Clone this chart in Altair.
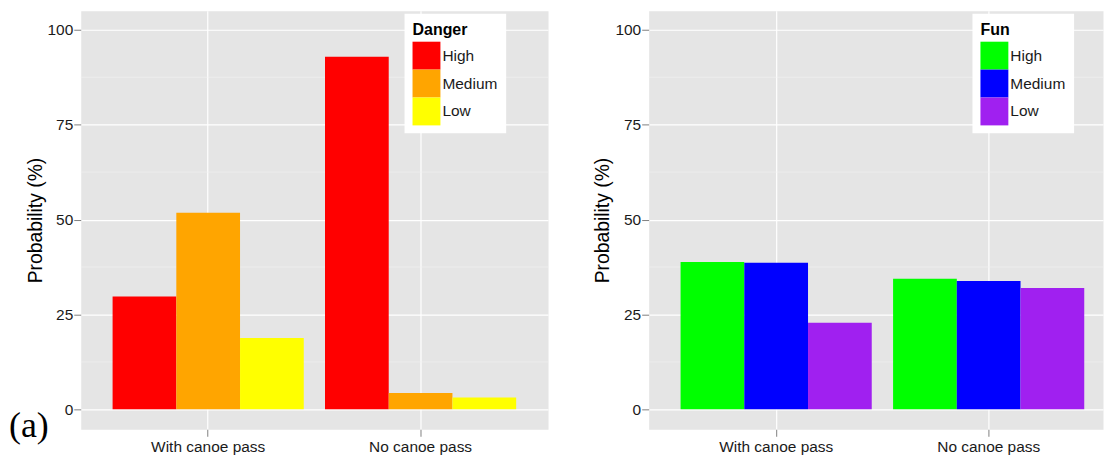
import altair as alt
import pandas as pd

groups = ["With canoe pass", "No canoe pass"]
levels = ["High", "Medium", "Low"]

danger_with = [29.7, 51.8, 18.8]
danger_without = [92.9, 4.3, 3.1]
fun_with = [38.8, 38.6, 22.8]
fun_without = [34.4, 33.8, 32.0]

danger_colors = ["#FF0000", "#FFA500", "#FFFF00"]
fun_colors = ["#00FF00", "#0000FF", "#A020F0"]

major_breaks = [0, 25, 50, 75, 100]
minor_breaks = [12.5, 37.5, 62.5, 87.5]
panel_tag = ["(a)"]

FONT = "Liberation Sans"


def make_df(with_vals, without_vals):
    rows = []
    for lv, v in zip(levels, with_vals):
        rows.append({"group": groups[0], "level": lv, "value": v})
    for lv, v in zip(levels, without_vals):
        rows.append({"group": groups[1], "level": lv, "value": v})
    return pd.DataFrame(rows)


def y_axis():
    return alt.Axis(
        values=major_breaks, title="Probability (%)", grid=True,
        gridColor="white", gridWidth=1.2, domain=False,
        tickColor="#7F7F7F", tickSize=7, tickWidth=1,
        labelFontSize=15.5, labelColor="#1a1a1a", labelPadding=1,
        titleFontSize=19.4, titleFontWeight="normal",
        titleColor="black", titlePadding=2, labelFont=FONT,
        titleFont=FONT,
    )


def panel(df, title, colors, width, po, align, tag_opacity):
    yscale = alt.Scale(domain=[-5.25, 105], nice=False, zero=False)
    minor = alt.Chart(pd.DataFrame({"value": minor_breaks})).mark_rule(
        color="#F2F2F2", strokeWidth=0.6
    ).encode(y=alt.Y("value:Q", scale=yscale, axis=y_axis()))

    bars = alt.Chart(df).mark_bar().encode(
        x=alt.X(
            "group:N",
            sort=groups,
            scale=alt.Scale(paddingInner=0.1, paddingOuter=po, align=align),
            axis=alt.Axis(
                title=None, labelAngle=0, grid=True, gridColor="white",
                gridWidth=1.2, domain=False, tickColor="#7F7F7F", tickSize=7,
                tickWidth=1, labelFontSize=15.5, labelColor="#1a1a1a",
                labelPadding=3, bandPosition=0.5, labelFont=FONT,
            ),
        ),
        xOffset=alt.XOffset(
            "level:N", sort=levels,
            scale=alt.Scale(paddingInner=0, paddingOuter=0),
        ),
        y=alt.Y("value:Q", scale=yscale, axis=y_axis()),
        color=alt.Color(
            "level:N",
            scale=alt.Scale(domain=levels, range=colors),
            legend=alt.Legend(
                title=title, orient="none", legendX=325, legendY=3,
                fillColor="white", padding=8, titleFontSize=16,
                titleFontWeight="bold", titleColor="black", titlePadding=4,
                labelFontSize=15.5, labelColor="#1a1a1a", labelOffset=2,
                symbolType="square", symbolSize=784, symbolStrokeWidth=0,
                rowPadding=0, symbolOpacity=1, titleFont=FONT,
                labelFont=FONT,
            ),
        ),
    )

    tag = alt.Chart(pd.DataFrame({"t": panel_tag})).mark_text(
        font="Liberation Serif", fontSize=36, align="left",
        baseline="alphabetic", color="black", opacity=tag_opacity,
    ).encode(x=alt.value(-72), y=alt.value(428), text="t:N")

    return alt.layer(minor, bars, tag).properties(width=width, height=420)


left = panel(make_df(danger_with, danger_without), "Danger", danger_colors,
             469, 0.15, 0.5, 1)
right = panel(make_df(fun_with, fun_without), "Fun", fun_colors,
              456, 0.119, 0.631, 0)

chart = alt.hconcat(left, right, spacing=27).resolve_scale(
    color="independent", x="independent", y="independent"
).properties(
    padding={"left": 0, "top": 1, "right": 0, "bottom": 0}
).configure(font=FONT).configure_view(fill="#E5E5E5", stroke="transparent")

chart.save("out.html", embed_options={"renderer": "svg", "actions": False})
